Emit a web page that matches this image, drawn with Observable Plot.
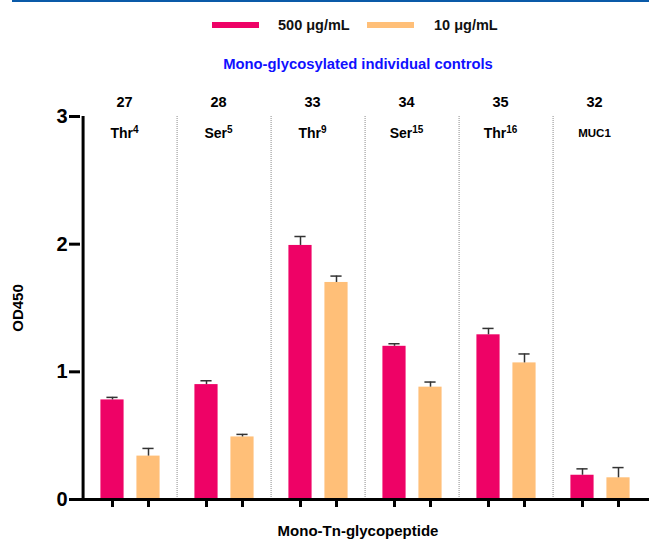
<!DOCTYPE html>
<html>
<head>
<meta charset="utf-8">
<script src="https://cdn.jsdelivr.net/npm/d3@7"></script>
<script src="https://cdn.jsdelivr.net/npm/@observablehq/plot@0.6"></script>
<style>
  body { margin: 0; background: #fff; font-family: "Liberation Sans", Arial, sans-serif; }
  #wrap { position: relative; width: 649px; height: 541px; overflow: hidden; }
  #topline { position: absolute; left: 12px; right: 0; top: 0; height: 2px; background: #0a5aa8; }
  .sw { position: absolute; top: 22px; width: 47px; height: 6px; }
  .lt { position: absolute; top: 16px; font-size: 14.5px; font-weight: bold; color: #111; line-height: 18px; }
  #subtitle { position: absolute; top: 55px; left: 0; width: 716px; text-align: center; font-size: 14.8px; font-weight: bold; color: #1010ff; line-height: 18px; }
  #chart { position: absolute; left: 0; top: 80px; }
</style>
</head>
<body>
<div id="wrap">
  <div id="topline"></div>
  <div class="sw" id="sw1" style="left:212px"></div>
  <div class="lt" id="lt1" style="left:278px"></div>
  <div class="sw" id="sw2" style="left:367px"></div>
  <div class="lt" id="lt2" style="left:434px"></div>
  <div id="subtitle"></div>
  <div id="chart"></div>
</div>
<script>
// ---- data ----
const groups = ["27", "28", "33", "34", "35", "32"];
const residues = ["Thr", "Ser", "Thr", "Ser", "Thr", "MUC1"];
const sites = ["4", "5", "9", "15", "16", ""];
const seriesNames = ["500 μg/mL", "10 μg/mL"];
const seriesColors = ["#ee0266", "#ffbf78"];
const high = [0.78, 0.90, 1.99, 1.20, 1.29, 0.19];
const highErr = [0.02, 0.03, 0.07, 0.02, 0.05, 0.05];
const low = [0.34, 0.49, 1.70, 0.88, 1.07, 0.17];
const lowErr = [0.06, 0.02, 0.05, 0.04, 0.07, 0.08];
const yTicks = [0, 1, 2, 3];
const subtitleText = "Mono-glycosylated individual controls";
const xTitle = "Mono-Tn-glycopeptide";
const yTitle = "OD450";

// ---- header (legend + subtitle) ----
document.getElementById("sw1").style.background = seriesColors[0];
document.getElementById("sw2").style.background = seriesColors[1];
document.getElementById("lt1").textContent = seriesNames[0];
document.getElementById("lt2").textContent = seriesNames[1];
document.getElementById("subtitle").textContent = subtitleText;

const hiData = groups.map((g, i) => ({g, v: high[i], e: highErr[i]}));
const loData = groups.map((g, i) => ({g, v: low[i], e: lowErr[i]}));
const labData = groups.map((g, i) => ({g, t: sites[i] ? residues[i] + "|" + sites[i] : residues[i], small: residues[i] === "MUC1"}));

const W = 649, ML = 80;
const band = (W - ML) / groups.length;
const off = 18, bw = 24, capW = 12;
const inL1 = band / 2 - off - bw / 2, inR1 = band - inL1 - bw;
const capIn = (band - capW) / 2;
const font = "Liberation Sans, Arial, sans-serif";

const chart = Plot.plot({
  width: W,
  height: 461,
  marginLeft: ML,
  marginRight: 0,
  marginTop: 36,
  marginBottom: 42,
  style: {fontFamily: font, color: "#000", background: "white"},
  x: {domain: groups, padding: 0, axis: null},
  y: {domain: [0, 3], axis: null},
  marks: [
    // group dividers
    Plot.ruleX(groups.slice(1), {x: d => d, dx: -band / 2, y1: 0, y2: 3, stroke: "#8a8a8a", strokeWidth: 1, strokeDasharray: "1,1"}),
    // bars
    Plot.barY(hiData, {x: "g", y: "v", fill: seriesColors[0], insetLeft: inL1, insetRight: inR1}),
    Plot.barY(loData, {x: "g", y: "v", fill: seriesColors[1], insetLeft: inR1, insetRight: inL1}),
    // error bars
    Plot.ruleX(hiData, {x: "g", y1: "v", y2: d => d.v + d.e, dx: -off, stroke: "#333", strokeWidth: 1.5}),
    Plot.ruleX(loData, {x: "g", y1: "v", y2: d => d.v + d.e, dx: off, stroke: "#333", strokeWidth: 1.5}),
    Plot.tickY(hiData, {x: "g", y: d => d.v + d.e, dx: -off, insetLeft: capIn, insetRight: capIn, stroke: "#333", strokeWidth: 1.5}),
    Plot.tickY(loData, {x: "g", y: d => d.v + d.e, dx: off, insetLeft: capIn, insetRight: capIn, stroke: "#333", strokeWidth: 1.5}),
    // axes
    Plot.ruleY([0], {stroke: "#000", strokeWidth: 3}),
    Plot.ruleX([groups[0]], {x: d => d, dx: -band / 2, y1: 0, y2: 3, stroke: "#000", strokeWidth: 3}),
    Plot.axisY({ticks: yTicks, tickSize: 11, tickPadding: 2, strokeWidth: 3, fontSize: 20, fontWeight: "bold", label: null, tickFormat: d => String(d)}),
    Plot.axisX({tickSize: 8, strokeWidth: 3, dx: -off, tickFormat: () => "", label: null}),
    Plot.axisX({tickSize: 8, strokeWidth: 3, dx: off, tickFormat: () => "", label: null}),
    // group labels
    Plot.text(groups, {x: d => d, text: d => d, frameAnchor: "top", lineAnchor: "middle", dy: -14, dx: -6, fontSize: 14.5, fontWeight: "bold"}),
    Plot.text(labData, {x: "g", text: "t", frameAnchor: "top", lineAnchor: "middle", dy: 17, dx: -6, fontSize: d => d.small ? 11.5 : 14, fontWeight: "bold"}),
    // titles
    Plot.text([xTitle], {frameAnchor: "bottom", lineAnchor: "middle", dy: 32, dx: -7, fontSize: 15, fontWeight: "bold"}),
    Plot.text([yTitle], {frameAnchor: "left", textAnchor: "middle", lineAnchor: "middle", dx: -62, rotate: -90, fontSize: 15, fontWeight: "bold"})
  ]
});

// superscripts for the glycosylation site numbers
chart.querySelectorAll("text").forEach(t => {
  if (t.childElementCount === 0 && t.textContent.includes("|")) {
    const [base, sup] = t.textContent.split("|");
    t.textContent = base;
    const ts = document.createElementNS("http://www.w3.org/2000/svg", "tspan");
    ts.setAttribute("font-size", "10");
    ts.setAttribute("dy", "-5");
    ts.textContent = sup;
    t.appendChild(ts);
  }
});

document.getElementById("chart").appendChild(chart);
</script>
</body>
</html>
